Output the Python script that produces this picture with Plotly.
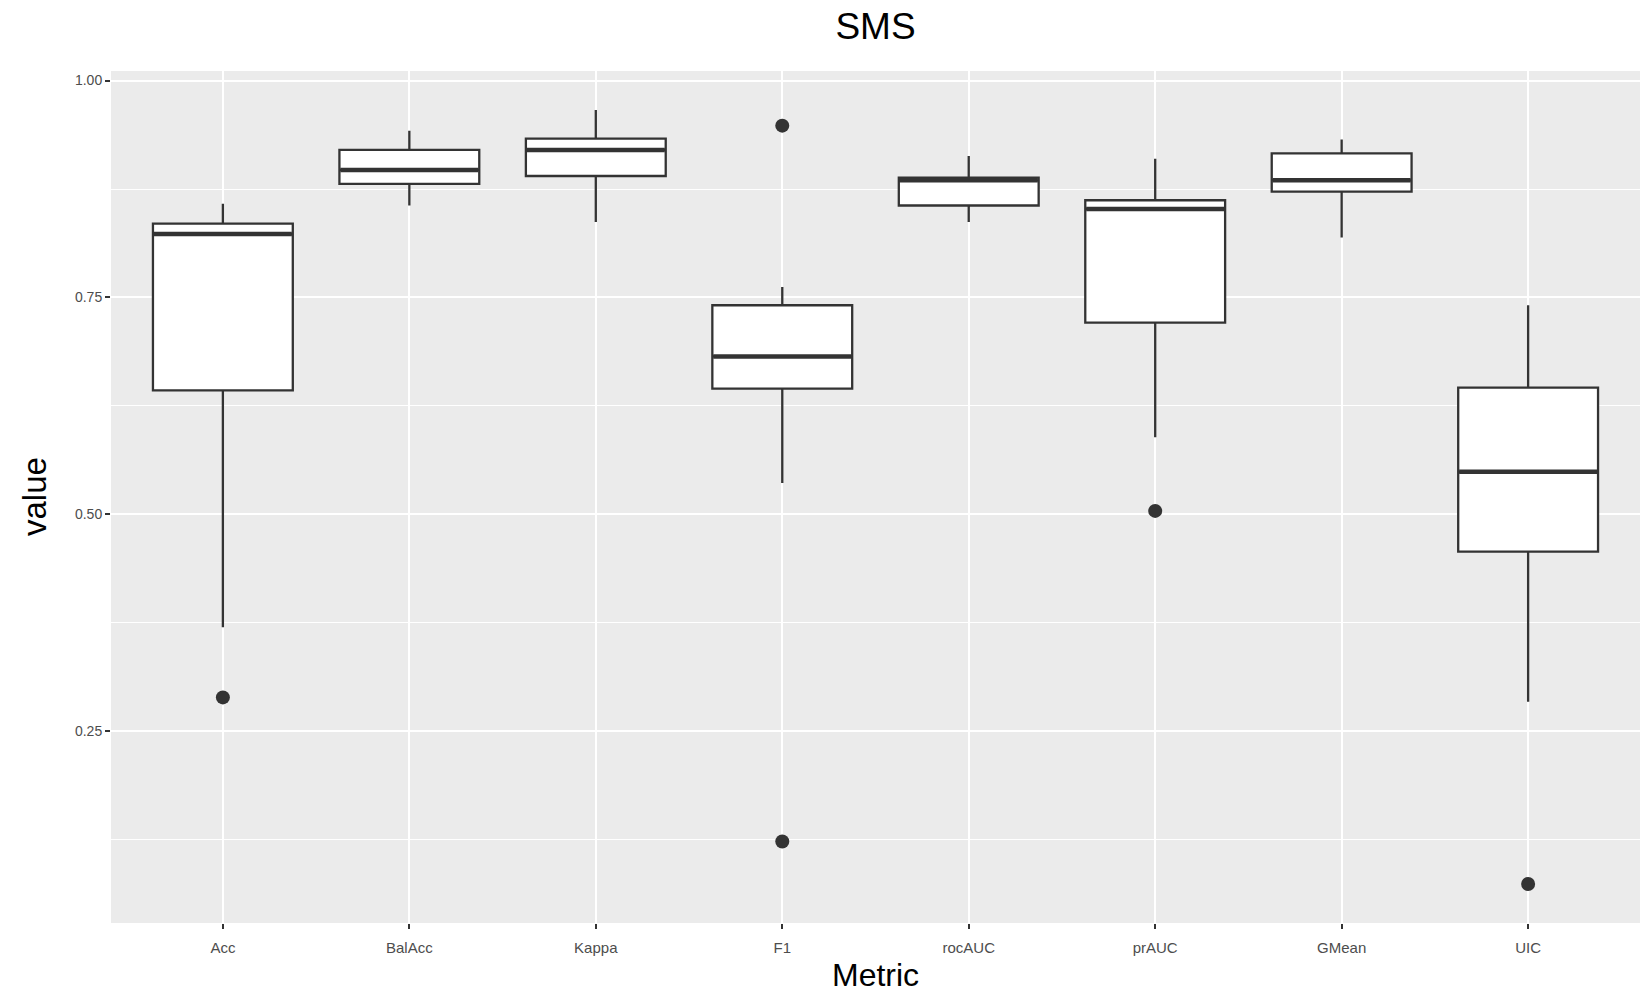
import plotly.graph_objects as go

categories = ["Acc", "BalAcc", "Kappa", "F1", "rocAUC", "prAUC", "GMean", "UIC"]
q1 = [0.643, 0.881, 0.890, 0.645, 0.856, 0.721, 0.872, 0.457]
median = [0.823, 0.897, 0.920, 0.682, 0.885, 0.852, 0.885, 0.549]
q3 = [0.835, 0.920, 0.933, 0.741, 0.888, 0.862, 0.916, 0.646]
lower_whisker = [0.370, 0.856, 0.837, 0.536, 0.837, 0.589, 0.819, 0.284]
upper_whisker = [0.858, 0.942, 0.966, 0.762, 0.913, 0.910, 0.932, 0.741]
outlier_metric = ["Acc", "F1", "F1", "prAUC", "UIC"]
outlier_value = [0.289, 0.948, 0.123, 0.504, 0.074]

pos = list(range(len(categories)))
box_w = 0.75
line_col = "#333333"

fig = go.Figure()
fig.add_trace(go.Box(
    x=pos, q1=q1, median=median, q3=q3,
    lowerfence=lower_whisker, upperfence=upper_whisker,
    width=box_w, whiskerwidth=0,
    fillcolor="white", line=dict(color=line_col, width=2.3),
    boxpoints=False, showlegend=False, hoverinfo="skip",
))

# thicker median segments (ggplot fatten)
mx, my = [], []
for i, m in zip(pos, median):
    mx += [i - box_w / 2 + 0.005, i + box_w / 2 - 0.005, None]
    my += [m, m, None]
fig.add_trace(go.Scatter(x=mx, y=my, mode="lines",
                         line=dict(color=line_col, width=4.5),
                         showlegend=False, hoverinfo="skip"))

ox = [categories.index(c) for c in outlier_metric]
fig.add_trace(go.Scatter(x=ox, y=outlier_value, mode="markers",
                         marker=dict(color=line_col, size=14),
                         showlegend=False))

fig.update_layout(
    width=1645, height=997,
    margin=dict(l=111, r=5, t=71, b=74),
    paper_bgcolor="white", plot_bgcolor="#EBEBEB",
    font=dict(family="Liberation Sans, Arial, sans-serif"),
    title=dict(text="SMS", x=0.5, xref="paper", y=1 - 26 / 997, yanchor="middle",
               font=dict(size=37, color="black")),
)
fig.update_xaxes(
    range=[-0.6, len(categories) - 0.4],
    tickmode="array", tickvals=pos, ticktext=categories,
    showgrid=True, gridcolor="white", gridwidth=2, zeroline=False,
    ticks="outside", ticklen=5, tickwidth=1.5, tickcolor=line_col,
    tickfont=dict(size=15, color="#4D4D4D"), ticklabelstandoff=6,
    showline=False,
)
fig.update_yaxes(
    range=[0.029, 1.011],
    tickmode="linear", tick0=0, dtick=0.25, tickformat=".2f",
    showgrid=True, gridcolor="white", gridwidth=2, zeroline=False,
    ticks="outside", ticklen=5, tickwidth=1.5, tickcolor=line_col,
    tickfont=dict(size=14, color="#4D4D4D"),
    minor=dict(tick0=0.125, dtick=0.25, showgrid=True, gridcolor="white",
               gridwidth=1, ticks=""),
    showline=False,
)
fig.add_annotation(text="value", xref="paper", yref="paper",
                   x=-111 / (1645 - 116) + 34 / (1645 - 116), y=0.5,
                   xanchor="center", yanchor="middle", textangle=-90,
                   showarrow=False, font=dict(size=33, color="black"))
fig.add_annotation(text="Metric", xref="paper", yref="paper",
                   x=0.5, y=-(975 - 923) / (923 - 71),
                   xanchor="center", yanchor="middle",
                   showarrow=False, font=dict(size=32, color="black"))

fig.write_html("out.html")
